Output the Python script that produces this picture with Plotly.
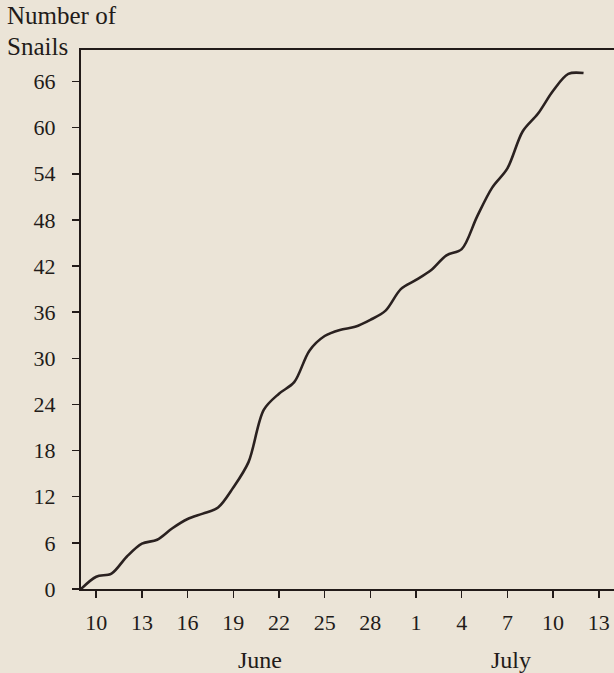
import plotly.graph_objects as go

# Day numbering: June 1 = 1, July 1 = 31
days = list(range(9, 43))
snails = [0, 1.6, 2.0, 4.2, 5.9, 6.4, 7.9, 9.1, 9.8, 10.6,
          13.2, 16.5, 23.3, 25.4, 26.9, 31.0, 32.9, 33.7, 34.1, 35.0,
          36.2, 39.0, 40.2, 41.5, 43.4, 44.2, 48.4, 52.2, 54.7, 59.5,
          61.8, 64.8, 67.0, 67.1]

x_tick_vals = [10, 13, 16, 19, 22, 25, 28, 31, 34, 37, 40, 43]
x_tick_text = ["10", "13", "16", "19", "22", "25", "28", "1", "4", "7", "10", "13"]
y_tick_vals = [0, 6, 12, 18, 24, 30, 36, 42, 48, 54, 60, 66]
y_tick_text = [str(v) for v in y_tick_vals]
month_labels = ["June", "July"]
month_pos = [20.75, 37.25]

BG = "#ebe4d7"
INK = "#221b19"
FONT = "Liberation Serif"

fig = go.Figure()
fig.add_trace(go.Scatter(
    x=days, y=snails, mode="lines",
    line=dict(color="#2a2120", width=2.6, shape="spline", smoothing=0.9),
    cliponaxis=False, hoverinfo="skip", showlegend=False,
))

fig.update_layout(
    width=614, height=673,
    margin=dict(l=81, r=0, t=50, b=84),
    paper_bgcolor=BG, plot_bgcolor=BG,
    font=dict(family=FONT, color=INK, size=22),
    showlegend=False,
    xaxis=dict(
        range=[9, 44], tickmode="array", tickvals=x_tick_vals, ticktext=x_tick_text,
        showgrid=False, zeroline=False, showline=True, linecolor=INK, linewidth=2,
        mirror=True, ticks="outside", ticklen=7, tickwidth=1.5, tickcolor=INK,
        tickfont=dict(family=FONT, size=22, color=INK), ticklabelstandoff=6,
    ),
    yaxis=dict(
        range=[0, 70.1], tickmode="array", tickvals=y_tick_vals, ticktext=y_tick_text,
        showgrid=False, zeroline=False, showline=True, linecolor=INK, linewidth=2,
        ticks="outside", ticklen=7, tickwidth=1.5, tickcolor=INK,
        tickfont=dict(family=FONT, size=22, color=INK), ticklabelstandoff=12,
    ),
)

fig.add_annotation(text="Number of", xref="paper", yref="paper", x=-76/533, y=1 + 34/538.5,
                   xanchor="left", yanchor="middle", showarrow=False,
                   font=dict(family=FONT, size=25, color=INK))
fig.add_annotation(text="Snails", xref="paper", yref="paper", x=-76/533, y=1 + 3/538.5,
                   xanchor="left", yanchor="middle", showarrow=False,
                   font=dict(family=FONT, size=25, color=INK))
for lab, pos in zip(month_labels, month_pos):
    fig.add_annotation(text=lab, x=pos, xref="x", yref="paper", y=-71/538.5,
                       xanchor="center", yanchor="middle", showarrow=False,
                       font=dict(family=FONT, size=24, color=INK))

fig.write_html("out.html", config={"displayModeBar": False, "staticPlot": True})

# remove the default page margin so the figure sits at the window's top-left corner
with open("out.html", "r", encoding="utf-8") as f:
    html = f.read()
html = html.replace("<head>", "<head><style>html,body{margin:0;padding:0;overflow:hidden;background:%s}</style>" % BG, 1)
with open("out.html", "w", encoding="utf-8") as f:
    f.write(html)
